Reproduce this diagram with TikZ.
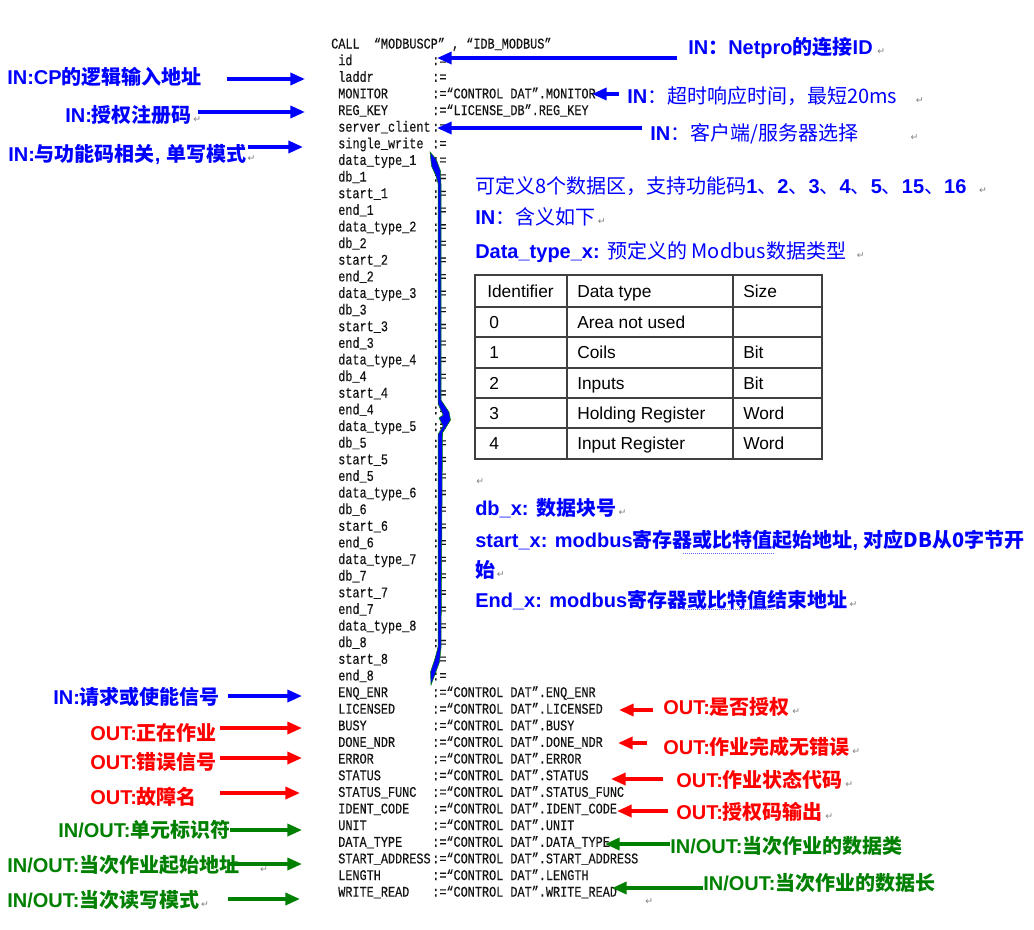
\documentclass[tikz,border=0pt]{standalone}
\usepackage{fontspec}
\setmainfont{Liberation Sans}
\newfontfamily\cjk{Noto Sans CJK SC}
\newfontfamily\codefont[FakeStretch=0.8,FakeBold=0.3]{Liberation Mono}
\newfontfamily\dejavu{DejaVu Sans}
\usetikzlibrary{arrows.meta}
\newcommand\zh[1]{{\cjk #1}}
\newcommand\zr[1]{{\cjk\mdseries #1}}
\newcommand\myarrow[4]{\coordinate (#2s) at (#3); \coordinate (#2e) at (#4); \draw[#1] (#2s) -- (#2e);}
\definecolor{mblue}{RGB}{0,0,255}
\definecolor{mred}{RGB}{255,0,0}
\definecolor{mgreen}{RGB}{0,128,0}
\definecolor{mcode}{RGB}{20,20,20}
\tikzset{
  code/.style={font=\codefont\fontsize{11.1pt}{12pt}\selectfont, text=mcode, inner sep=0, anchor=base west},
  lab/.style={font=\bfseries\fontsize{15pt}{18pt}\selectfont, inner sep=0, anchor=base west},
  tab/.style={font=\fontsize{13pt}{15pt}\selectfont, text=black, inner sep=0, anchor=base west},
  ret/.style={font=\dejavu\fontsize{7pt}{8pt}\selectfont, text=gray, inner sep=0, anchor=base west},
  arr/.style={line width=2.6pt, -{Triangle[length=11pt,width=9pt]}},
  barr/.style={arr, draw=mblue},
  rarr/.style={arr, draw=mred},
  garr/.style={arr, draw=mgreen},
  grid/.style={draw=black!75, line width=0.8pt},
}
\begin{document}
\begin{tikzpicture}[x=0.75pt,y=-0.75pt]
\useasboundingbox (0,0) rectangle (1034,929);
\fill[white] (0,0) rectangle (1034,929);

% ---------- code listing ----------
\node[code] (c0) at (331,48.5) {CALL\ \ “MODBUSCP”\ ,\ “IDB\_MODBUS”};
\foreach \i/\n/\v in {1/id/{:=}, 2/laddr/{:=}, 3/MONITOR/{:=“CONTROL DAT”.MONITOR}, 4/REG\_KEY/{:=“LICENSE\_DB”.REG\_KEY}, 5/server\_client/{:=}, 6/single\_write/{:=}} {
  \node[code] (c\i) at (338,{48.5+16.63*\i}) {\n};
  \node[code] (a\i) at (432,{48.5+16.63*\i}) {\v};
}
\foreach \k in {1,...,8} {
  \pgfmathtruncatemacro\ia{3+4*\k}
  \pgfmathtruncatemacro\ib{4+4*\k}
  \pgfmathtruncatemacro\ic{5+4*\k}
  \pgfmathtruncatemacro\id{6+4*\k}
  \node[code] (c\ia) at (338,{48.5+16.63*\ia}) {data\_type\_\k};
  \node[code] (a\ia) at (432,{48.5+16.63*\ia}) {:=};
  \node[code] (c\ib) at (338,{48.5+16.63*\ib}) {db\_\k};
  \node[code] (a\ib) at (432,{48.5+16.63*\ib}) {:=};
  \node[code] (c\ic) at (338,{48.5+16.63*\ic}) {start\_\k};
  \node[code] (a\ic) at (432,{48.5+16.63*\ic}) {:=};
  \node[code] (c\id) at (338,{48.5+16.63*\id}) {end\_\k};
  \node[code] (a\id) at (432,{48.5+16.63*\id}) {:=};
}
\foreach \i/\n in {39/ENQ\_ENR, 40/LICENSED, 41/BUSY, 42/DONE\_NDR, 43/ERROR, 44/STATUS, 45/STATUS\_FUNC, 46/IDENT\_CODE, 47/UNIT, 48/DATA\_TYPE, 49/START\_ADDRESS, 50/LENGTH, 51/WRITE\_READ} {
  \node[code] (c\i) at (338,{48.5+16.63*\i}) {\n};
  \node[code] (a\i) at (432,{48.5+16.63*\i}) {:=“CONTROL DAT”.\n};
}

% ---------- brace ----------
\filldraw[fill=mblue, draw=mgreen, line width=0.4pt]
  (430,152) -- (436,159) -- (440.5,171) -- (441,184) -- (441,400) -- (449,412) -- (450.5,420)
  -- (442.5,433) -- (441,648) -- (439.5,662) -- (431,685)
  -- (430.5,672) -- (435.5,657) -- (438.2,646) -- (438.2,434) -- (443,426) -- (439,418) -- (443,415) -- (438.2,404)
  -- (438.2,184) -- (436,176) -- (431.5,166) -- cycle;

% ---------- top labels ----------
\node[lab, text=mblue] (L1) at (688,54) {IN\zh{：}Netpro\zh{的连接}ID};
\node[lab, text=mblue] (L2) at (7,84) {IN:CP\zh{的逻辑输入地址}};
\node[lab, text=mblue] (L3) at (627,103) {IN\zr{：超时响应时间，最短20ms}};
\node[lab, text=mblue] (L4) at (65,122) {IN:\zh{授权注册码}};
\node[lab, text=mblue] (L5) at (650,140) {IN\zr{：客户端/服务器选择}};
\node[lab, text=mblue] (L6) at (8,161) {IN:\zh{与功能码相关}, \zh{单写模式}};

\myarrow{barr}{A1}{677,58}{437,58}
\myarrow{barr}{A2}{227,79}{305,79}
\myarrow{barr}{A3}{619,94}{592,94}
\myarrow{barr}{A4}{198,112}{305,112}
\myarrow{barr}{A5}{642,128}{437,128}
\myarrow{barr}{A6}{248,147}{303,147}

% ---------- right text block ----------
\node[lab, text=mblue] (T1) at (475,193) {\zr{可定义8个数据区，支持功能码}1\zr{、}2\zr{、}3\zr{、}4\zr{、}5\zr{、}15\zr{、}16};
\node[lab, text=mblue] (T2) at (475,224) {IN\zr{：含义如下}};
\node[lab, text=mblue] (T3) at (475,258) {Data\_type\_x: \zr{预定义的 Modbus数据类型}};

% table
\draw[grid] (475,275) rectangle (822,459);
\foreach \y in {307,337,368,398,428} { \draw[grid] (475,\y) -- (822,\y); }
\draw[grid] (567,275) -- (567,459);
\draw[grid] (733,275) -- (733,459);
\node[tab] (h1) at (487,297) {Identifier};
\node[tab] (h2) at (577,297) {Data type};
\node[tab] (h3) at (743,297) {Size};
\node[tab] (r0a) at (489,328) {0};
\node[tab] (r0b) at (577,328) {Area not used};
\node[tab] (r1a) at (489,358) {1};
\node[tab] (r1b) at (577,358) {Coils};
\node[tab] (r1c) at (743,358) {Bit};
\node[tab] (r2a) at (489,389) {2};
\node[tab] (r2b) at (577,389) {Inputs};
\node[tab] (r2c) at (743,389) {Bit};
\node[tab] (r3a) at (489,419) {3};
\node[tab] (r3b) at (577,419) {Holding Register};
\node[tab] (r3c) at (743,419) {Word};
\node[tab] (r4a) at (489,449) {4};
\node[tab] (r4b) at (577,449) {Input Register};
\node[tab] (r4c) at (743,449) {Word};

\node[lab, text=mblue] (T4) at (475,515) {db\_x: \zh{数据块号}};
\node[lab, text=mblue] (T5) at (475,547) {start\_x: modbus\zh{寄存器或比特值起始地址}, \zh{对应DB从0字节开}};
\node[lab, text=mblue] (T6) at (475,577) {\zh{始}};
\node[lab, text=mblue] (T7) at (475,607) {End\_x: modbus\zh{寄存器或比特值结束地址}};
\draw[mblue!60, line width=0.5pt, densely dotted] (683,553) -- (775,553);
\draw[mblue!60, line width=0.5pt, densely dotted] (683,609) -- (775,609);

% ---------- bottom labels ----------
\node[lab, text=mblue] (B1) at (53,704) {IN:\zh{请求或使能信号}};
\node[lab, text=mred] (B2) at (90,740) {OUT:\zh{正在作业}};
\node[lab, text=mred] (B3) at (90,769) {OUT:\zh{错误信号}};
\node[lab, text=mred] (B4) at (90,804) {OUT:\zh{故障名}};
\node[lab, text=mgreen] (B5) at (58,837) {IN/OUT:\zh{单元标识符}};
\node[lab, text=mgreen] (B6) at (7,872) {IN/OUT:\zh{当次作业起始地址}};
\node[lab, text=mgreen] (B7) at (7,907) {IN/OUT:\zh{当次读写模式}};

\node[lab, text=mred] (R1) at (663,714) {OUT:\zh{是否授权}};
\node[lab, text=mred] (R2) at (663,754) {OUT:\zh{作业完成无错误}};
\node[lab, text=mred] (R3) at (676,787) {OUT:\zh{作业状态代码}};
\node[lab, text=mred] (R4) at (676,819) {OUT:\zh{授权码输出}};
\node[lab, text=mgreen] (R5) at (670,853) {IN/OUT:\zh{当次作业的数据类}};
\node[lab, text=mgreen] (R6) at (703,890) {IN/OUT:\zh{当次作业的数据长}};

\myarrow{barr}{A7}{228,696}{302,696}
\myarrow{rarr}{A8}{220,728}{302,728}
\myarrow{rarr}{A9}{220,758}{302,758}
\myarrow{rarr}{A10}{220,793}{300,793}
\myarrow{garr}{A11}{230,830}{302,830}
\myarrow{garr}{A12}{228,864}{302,864}
\myarrow{garr}{A13}{228,899}{300,899}
\myarrow{rarr}{A14}{653,710}{619,710}
\myarrow{rarr}{A15}{647,743}{618,743}
\myarrow{rarr}{A16}{663,779}{611,779}
\myarrow{rarr}{A17}{668,811}{617,811}
\myarrow{garr}{A18}{670,844}{605,844}
\myarrow{garr}{A19}{703,888}{612,888}

% ---------- paragraph marks ----------
\foreach \t/\dx [count=\n] in {L1/4, L3/18, L5/52, L4/1, L6/1, T1/12, T2/2, T3/10, T4/2, T6/1, T7/2, R1/2, R2/2, R3/2, R4/2, B6/20, B7/1} {
  \node[ret] (m\n) at ([xshift=\dx*0.75pt]\t.base east) {↵};
}
\node[ret] (mt) at (476,484) {↵};
\node[ret] (mw) at (645,904) {↵};
\end{tikzpicture}
\end{document}
